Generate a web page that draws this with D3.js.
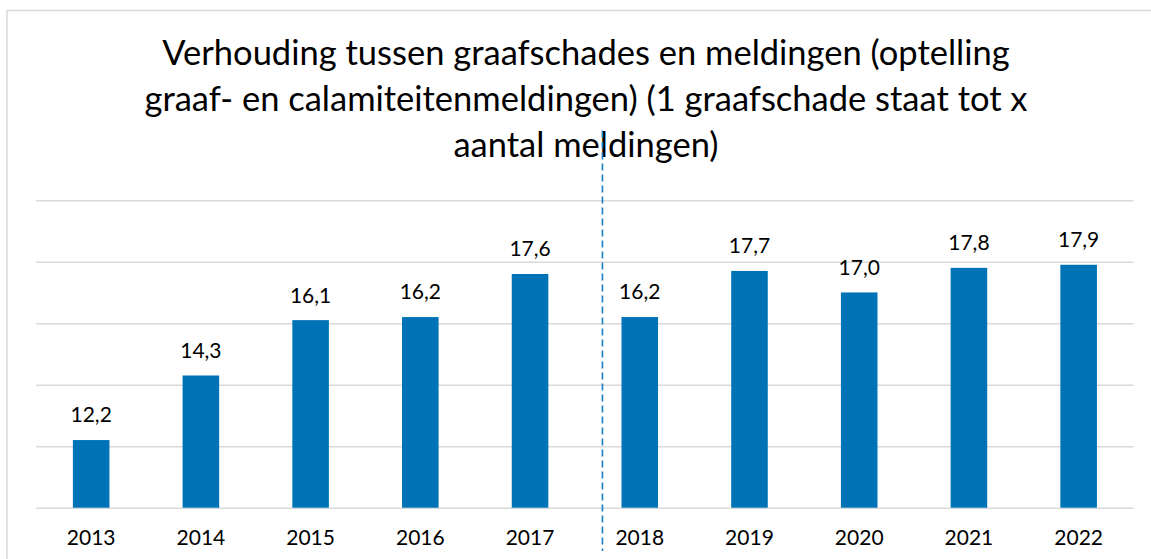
<!DOCTYPE html>
<html>
<head>
<meta charset="utf-8">
<script src="https://cdn.jsdelivr.net/npm/d3@7"></script>
<style>
  html, body { margin: 0; padding: 0; background: #fff; }
  svg { display: block; }
  text { font-family: Lato, "Open Sans", sans-serif; fill: #000; }
</style>
</head>
<body>
<svg id="chart" width="1151" height="559"></svg>
<script>
const titleLines = [
  "Verhouding tussen graafschades en meldingen (optelling",
  "graaf- en calamiteitenmeldingen) (1 graafschade staat tot x",
  "aantal meldingen)"
];
const years = ["2013","2014","2015","2016","2017","2018","2019","2020","2021","2022"];
const ratios = [12.2, 14.3, 16.1, 16.2, 17.6, 16.2, 17.7, 17.0, 17.8, 17.9];
const valueLabels = ["12,2","14,3","16,1","16,2","17,6","16,2","17,7","17,0","17,8","17,9"];
const gridTicks = [10, 12, 14, 16, 18, 20];
const dividerAfter = "2017";

const W = 1151, H = 559;
const svg = d3.select("#chart");

// outer chart border
svg.append("rect")
  .attr("x", 7).attr("y", 10.5)
  .attr("width", W + 20).attr("height", H + 20)
  .attr("fill", "none").attr("stroke", "#d9d9d9").attr("stroke-width", 1.5);

const plot = { left: 36.3, right: 1133.5, top: 200.2, bottom: 507.7 };

const x = d3.scaleBand().domain(years)
  .range([plot.left, plot.right])
  .paddingInner(2/3).paddingOuter(1/3);
const y = d3.scaleLinear().domain([10, 20]).range([plot.bottom, plot.top]);

// gridlines
const yAxis = d3.axisLeft(y).tickValues(gridTicks)
  .tickSize(-(plot.right - plot.left)).tickFormat("");
const gy = svg.append("g").attr("transform", `translate(${plot.left},0)`).call(yAxis);
gy.select(".domain").remove();
gy.selectAll(".tick line").attr("stroke", "#d9d9d9").attr("stroke-width", 1.4);

// bars
svg.append("g").selectAll("rect").data(years).join("rect")
  .attr("x", d => x(d))
  .attr("y", (d, i) => y(ratios[i]))
  .attr("width", x.bandwidth())
  .attr("height", (d, i) => y(10) - y(ratios[i]))
  .attr("fill", "#0073b7");

// value labels
svg.append("g").selectAll("text").data(years).join("text")
  .attr("x", d => x(d) + x.bandwidth() / 2)
  .attr("y", (d, i) => y(ratios[i]) - 17.6)
  .attr("text-anchor", "middle")
  .attr("font-size", 21)
  .text((d, i) => valueLabels[i]);

// x axis labels
const xAxis = d3.axisBottom(x).tickSize(0).tickPadding(0);
const gx = svg.append("g").attr("transform", `translate(0,${plot.bottom})`).call(xAxis);
gx.select(".domain").remove();
gx.selectAll(".tick text")
  .attr("font-size", 21).attr("font-family", "Lato, 'Open Sans', sans-serif")
  .attr("dy", null).attr("y", 37.3).attr("fill", "#000");

// title
svg.append("g").selectAll("text").data(titleLines).join("text")
  .attr("x", 586)
  .attr("y", (d, i) => 65.3 + i * 46)
  .attr("text-anchor", "middle")
  .attr("font-size", 34.5)
  .text(d => d);

// dashed divider between 2017 and 2018
const divX = x(dividerAfter) + x.bandwidth() / 2 + 0.66 * x.step();
svg.append("line")
  .attr("x1", divX).attr("x2", divX)
  .attr("y1", 130.5).attr("y2", 551)
  .attr("stroke", "#1a7fc4").attr("stroke-width", 1.6)
  .attr("stroke-dasharray", "7,4");
</script>
</body>
</html>
